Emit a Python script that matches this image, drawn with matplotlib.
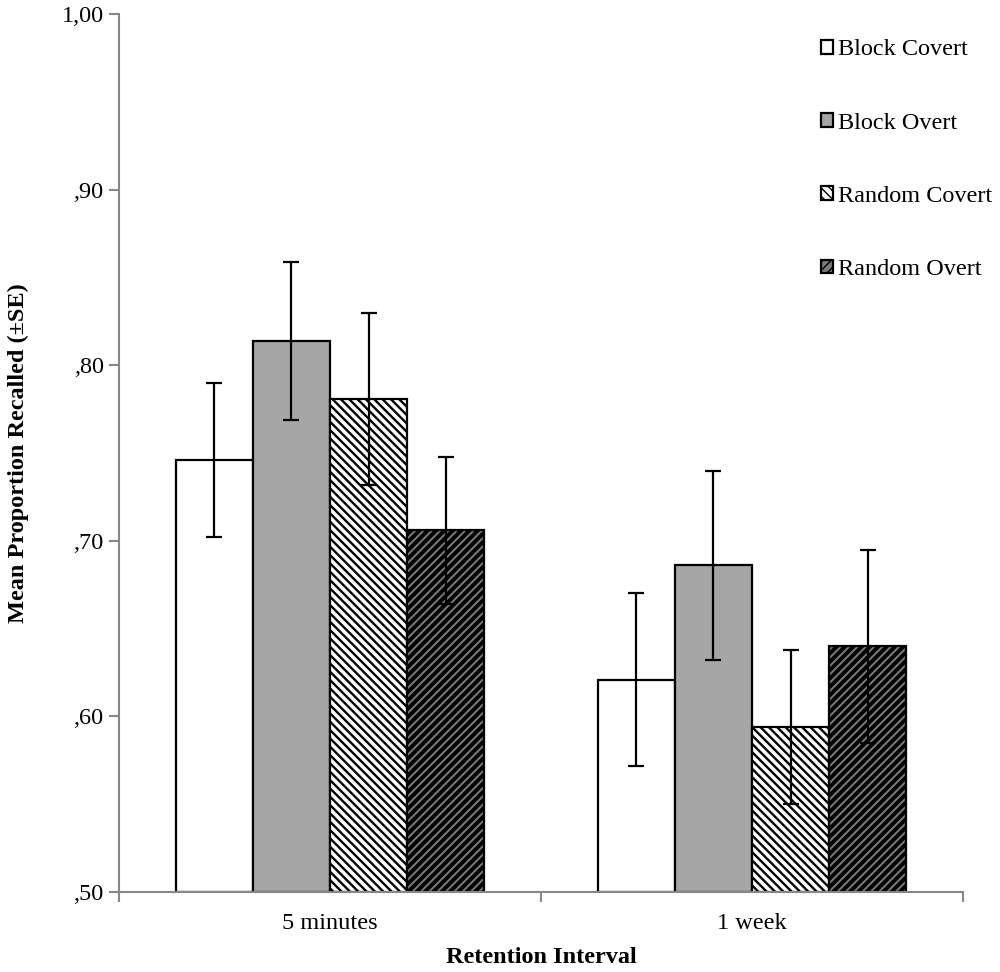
import matplotlib.pyplot as plt
import numpy as np
from matplotlib.patches import Patch

categories = ["5 minutes", "1 week"]
conditions = ["Block Covert", "Block Overt", "Random Covert", "Random Overt"]
means = {
    "Block Covert": [0.746, 0.621],
    "Block Overt": [0.814, 0.686],
    "Random Covert": [0.781, 0.594],
    "Random Overt": [0.706, 0.640],
}
errors = {
    "Block Covert": [0.044, 0.049],
    "Block Overt": [0.045, 0.054],
    "Random Covert": [0.049, 0.044],
    "Random Overt": [0.042, 0.055],
}
y_ticks = [0.5, 0.6, 0.7, 0.8, 0.9, 1.0]
y_tick_labels = [",50", ",60", ",70", ",80", ",90", "1,00"]

# face colour, hatch, hatch line width
styles = {
    "Block Covert": ("white", "", 1.0),
    "Block Overt": ("#a6a6a6", "", 1.0),
    "Random Covert": ("white", "\\\\\\\\", 1.7),
    "Random Overt": ("#7a7a7a", "////", 2.8),
}

AXIS_GREY = "#878787"

plt.rcParams["font.family"] = ["Liberation Serif", "DejaVu Serif"]
plt.rcParams["hatch.color"] = "black"

fig = plt.figure(figsize=(10, 9.72), dpi=100)
ax = fig.add_axes([0.119, 0.0823, 0.844, 0.9033])

x = np.arange(len(categories))
width = 0.1825

for i, name in enumerate(conditions):
    face, hatch, hlw = styles[name]
    with plt.rc_context({"hatch.linewidth": hlw}):
        ax.bar(
            x + (i - 1.5) * width,
            np.array(means[name]) - 0.5,
            width,
            bottom=0.5,
            color=face,
            edgecolor="black",
            linewidth=1.6,
            hatch=hatch,
            zorder=2,
        )
    ax.errorbar(
        x + (i - 1.5) * width,
        means[name],
        yerr=errors[name],
        fmt="none",
        ecolor="black",
        elinewidth=1.6,
        capsize=6,
        capthick=1.6,
        zorder=3,
    )

ax.set_xlim(-0.5, 1.5)
ax.set_ylim(0.5, 1.0)
ax.set_yticks(y_ticks)
ax.set_yticklabels(y_tick_labels)
ax.set_xticks([-0.5, 0.5, 1.5])
ax.set_xticklabels([])
ax.set_xticks(x, minor=True)
ax.set_xticklabels(categories, minor=True)
ax.tick_params(axis="x", which="minor", length=0, pad=15, labelsize=17.5)
ax.tick_params(axis="x", which="major", direction="out", length=7,
               width=1.5, color=AXIS_GREY)
ax.tick_params(axis="y", direction="out", length=7, width=1.5,
               color=AXIS_GREY, labelsize=17.5, pad=4)

for side in ("top", "right"):
    ax.spines[side].set_visible(False)
for side in ("left", "bottom"):
    ax.spines[side].set_color(AXIS_GREY)
    ax.spines[side].set_linewidth(1.5)

ax.set_xlabel("Retention Interval", fontsize=17.5, fontweight="bold")
ax.xaxis.set_label_coords(0.5, -0.063)
ax.set_ylabel("Mean Proportion Recalled (\u00b1SE)", fontsize=17.5,
              fontweight="bold")
ax.yaxis.set_label_coords(-0.107, 0.5)

handles = []
for name in conditions:
    face, hatch, hlw = styles[name]
    handles.append(Patch(facecolor=face, edgecolor="black", linewidth=1.6,
                         hatch=hatch, label=name))
ax.legend(
    handles=handles,
    loc="upper left",
    bbox_to_anchor=(0.799, 0.982),
    bbox_transform=fig.transFigure,
    frameon=False,
    fontsize=17.5,
    labelspacing=2.15,
    handlelength=0.5,
    handleheight=0.5,
    handletextpad=0.2,
)

fig.savefig("out.png", dpi=100)
